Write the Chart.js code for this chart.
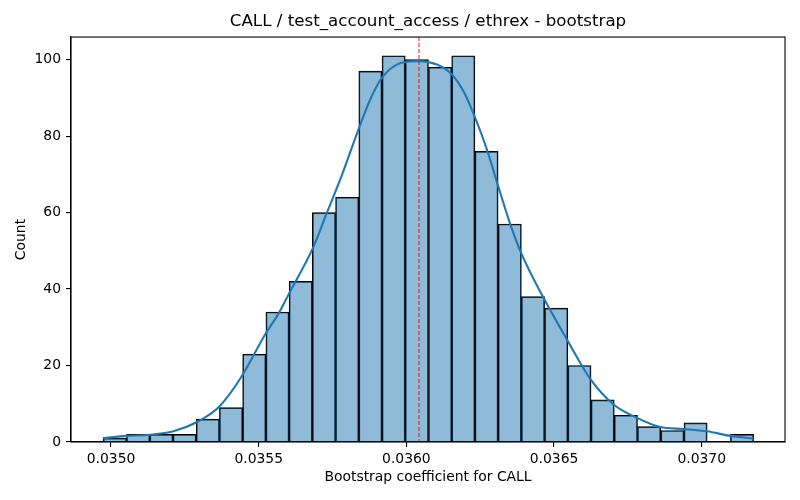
<!DOCTYPE html>
<html>
<head>
<meta charset="utf-8">
<script src="https://cdn.jsdelivr.net/npm/chart.js@4/dist/chart.umd.min.js"></script>
<style>
html,body{margin:0;padding:0;background:#fff;}
#wrap{width:800px;height:500px;}
</style>
</head>
<body>
<div id="wrap"><canvas id="c" width="800" height="500"></canvas></div>
<script>
const titleText = "CALL / test_account_access / ethrex - bootstrap";
const xLabel = "Bootstrap coefficient for CALL";
const yLabel = "Count";

const binCenters = [0.0350132,0.0350918,0.0351705,0.0352491,0.0353278,0.0354064,0.0354850,
  0.0355637,0.0356423,0.0357210,0.0357996,0.0358782,0.0359569,0.0360355,0.0361142,0.0361928,
  0.0362714,0.0363501,0.0364287,0.0365074,0.0365860,0.0366646,0.0367433,0.0368219,0.0369006,
  0.0369792,0.0370578,0.0371365];
const counts = [1,2,2,2,6,9,23,34,42,60,64,97,101,100,98,101,76,57,38,35,20,11,7,4,3,5,0,2];

const kdeX = [0.0349719,0.0350532,0.0351321,0.0352110,0.0352879,0.0353669,0.0354427,0.0355217,
  0.0355681,0.0356040,0.0356833,0.0357307,0.0357758,0.0358377,0.0358774,0.0359170,0.0359678,
  0.0360356,0.0361033,0.0361541,0.0361934,0.0362307,0.0362727,0.0363093,0.0363516,0.0363889,
  0.0364644,0.0365437,0.0366226,0.0367015,0.0367808,0.0368597,0.0369387,0.0370179,0.0370969,0.0371758];
const kdeY = [1.0,1.6,1.9,2.8,5.1,9.3,17.2,28.1,33.7,39.0,50.7,59.9,68.6,81.7,89.5,95.2,98.7,
  99.6,98.7,96.1,91.7,85.2,76.5,67.3,57.0,49.4,37.7,26.8,16.5,9.8,6.3,3.9,3.4,2.8,1.6,0.9];

const meanLine = 0.0360427;
const xTicks = [0.0350,0.0355,0.0360,0.0365,0.0370];
const yTicks = [0,20,40,60,80,100];
const xMin = 0.0348645, xMax = 0.037282;
const yMin = 0, yMax = 105.9;

const FONT = "'DejaVu Sans', sans-serif";

const framePlugin = {
  id: 'frame',
  afterDatasetsDraw(chart) {
    const {ctx, chartArea: a, scales} = chart;
    const px = scales.x.getPixelForValue(meanLine);
    ctx.save();
    ctx.strokeStyle = 'rgba(235,20,20,0.9)';
    ctx.lineWidth = 1.1;
    ctx.setLineDash([4, 2]);
    ctx.beginPath();
    ctx.moveTo(px, a.top);
    ctx.lineTo(px, a.bottom);
    ctx.stroke();
    ctx.setLineDash([]);
    ctx.strokeStyle = '#000';
    ctx.lineWidth = 1.1;
    ctx.strokeRect(a.left, a.top, a.right - a.left, a.bottom - a.top);
    ctx.restore();
  }
};

new Chart(document.getElementById('c'), {
  type: 'bar',
  data: {
    datasets: [
      {
        type: 'line',
        data: kdeX.map((x, i) => ({x: x, y: kdeY[i]})),
        borderColor: '#1f77b4',
        borderWidth: 2.1,
        pointRadius: 0,
        fill: false,
        cubicInterpolationMode: 'monotone',
        order: 0
      },
      {
        type: 'bar',
        data: binCenters.map((x, i) => ({x: x, y: counts[i]})),
        backgroundColor: 'rgba(31,119,180,0.5)',
        borderColor: '#000',
        borderWidth: 1,
        barPercentage: 1,
        categoryPercentage: 1,
        grouped: false,
        order: 1
      }
    ]
  },
  options: {
    responsive: false,
    animation: false,
    devicePixelRatio: 1,
    layout: {padding: {left: 0, right: 15, top: 0, bottom: 0}},
    plugins: {
      legend: {display: false},
      tooltip: {enabled: false},
      title: {
        display: true,
        fullSize: false,
        text: titleText,
        color: '#000',
        font: {family: FONT, size: 16.7, weight: 'normal', lineHeight: 1.2},
        padding: {top: 12, bottom: 5}
      }
    },
    scales: {
      x: {
        type: 'linear',
        min: xMin, max: xMax,
        offset: false,
        afterBuildTicks: s => { s.ticks = xTicks.map(v => ({value: v})); },
        afterFit: s => { s.height = 58; },
        grid: {display: true, offset: false, drawOnChartArea: false, drawTicks: true, tickLength: 5, color: '#000', lineWidth: 1.1},
        border: {display: true, color: '#000', width: 1.1},
        ticks: {color: '#000', padding: 4, maxRotation: 0, font: {family: FONT, size: 13.9},
          callback: v => Number(v).toFixed(4)},
        title: {display: true, text: xLabel, color: '#000', font: {family: FONT, size: 13.9, lineHeight: 1.2},
          padding: {top: 0, bottom: 14.5}}
      },
      y: {
        type: 'linear',
        min: yMin, max: yMax,
        afterBuildTicks: s => { s.ticks = yTicks.map(v => ({value: v})); },
        afterFit: s => { s.width = 71; },
        grid: {display: true, offset: false, drawOnChartArea: false, drawTicks: true, tickLength: 5, color: '#000', lineWidth: 1.1},
        border: {display: true, color: '#000', width: 1.1},
        ticks: {color: '#000', padding: 5, font: {family: FONT, size: 13.9}},
        title: {display: true, text: yLabel, color: '#000', font: {family: FONT, size: 13.9, lineHeight: 1.2},
          padding: {top: 13.5, bottom: 0}}
      }
    }
  },
  plugins: [framePlugin]
});
</script>
</body>
</html>
